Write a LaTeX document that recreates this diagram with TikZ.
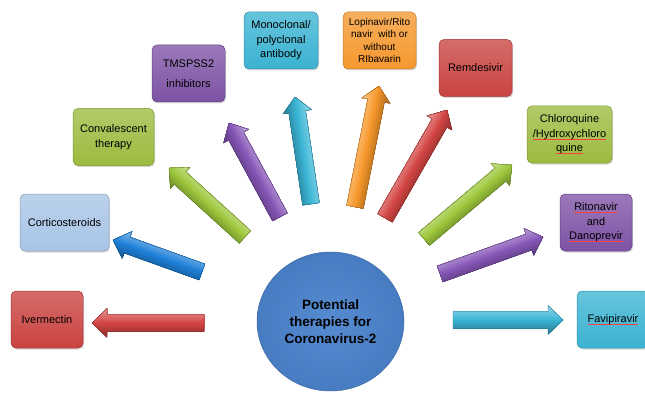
\documentclass[tikz,border=0pt]{standalone}
\usepackage{fontspec}
\setmainfont{Liberation Sans}
\usetikzlibrary{shadows,shapes.geometric}

% box fills
\definecolor{bxRed}{HTML}{C94340}
\definecolor{bxBlue}{HTML}{A8C4E6}
\definecolor{bxGreen}{HTML}{9CBB3F}
\definecolor{bxPurple}{HTML}{7D53A5}
\definecolor{bxCyan}{HTML}{3BB3D2}
\definecolor{bxOrange}{HTML}{F5982F}
% arrow fills
\definecolor{arRed}{HTML}{D44644}
\definecolor{arBlue}{HTML}{1E80D8}
\definecolor{arGreen}{HTML}{9DC83C}
\definecolor{arPurple}{HTML}{8757B8}
\definecolor{arCyan}{HTML}{3BB6D6}
\definecolor{arOrange}{HTML}{F7982A}
% centre disc
\definecolor{cBall}{HTML}{4C84CE}

% thin red underline as left by a spell checker
\newsavebox\spellbox
\newcommand\spellmark[1]{\sbox\spellbox{#1}\rlap{\color{red!75!white}\rule[-1.8pt]{\wd\spellbox}{0.3pt}}\usebox\spellbox}

% bevelled block arrow from a tail coordinate to a tip coordinate:
% bands are stacked from the lower edge upwards, each one covering
% everything above it, so no seams show between them
\newcommand\therapyarrow[3]{%
  \path (#1); \pgfgetlastxy{\tax}{\tay}%
  \path (#2); \pgfgetlastxy{\thx}{\thy}%
  \pgfmathsetmacro\tang{atan2(\thy-\tay,\thx-\tax)}%
  \pgfmathsetmacro\tlen{veclen(\thx-\tax,\thy-\tay)}%
  \pgfmathsetmacro\tside{cos(\tang)>=0 ? -1 : 1}%
  \begin{scope}[shift={(#1)}, rotate=\tang, yscale=\tside]
    \begin{scope}
      \clip (0,-8.5) -- (\tlen-15,-8.5) -- (\tlen-15,-14.5) -- (\tlen,0)
            -- (\tlen-15,14.5) -- (\tlen-15,8.5) -- (0,8.5) -- cycle;
      \foreach \k in {0,...,29}{%
        \ifnum\k>14
          \pgfmathtruncatemacro\tpct{100-(\k-14.5)*3.2}%
          \colorlet{tstrip}{#3!\tpct!white}%
        \else
          \pgfmathtruncatemacro\tpct{100-(14.5-\k)*2.4}%
          \colorlet{tstrip}{#3!\tpct!black}%
        \fi
        \fill[tstrip] (-2,\k-15.2) rectangle (\tlen+2,16);
      }
    \end{scope}
    \draw[#3!65!black, line width=0.4pt, line join=round]
      (0,-8.5) -- (\tlen-15,-8.5) -- (\tlen-15,-14.5) -- (\tlen,0)
      -- (\tlen-15,14.5) -- (\tlen-15,8.5) -- (0,8.5) -- cycle;
  \end{scope}}

\tikzset{
  therapy/.style={draw=#1!80!black, line width=0.5pt, rounded corners=5pt,
    top color=#1!78!white, bottom color=#1, minimum height=57pt,
    inner sep=1pt, align=center, text=black,
    font=\fontsize{11}{14.5}\selectfont,
    drop shadow={opacity=0.3, shadow xshift=1pt, shadow yshift=-1.5pt}},
  hub/.style={ellipse, minimum width=147pt, minimum height=139pt, inner sep=0pt,
    draw=cBall!80!black, line width=0.5pt,
    inner color=cBall!94!white, outer color=cBall!94!black,
    align=center, text=black,
    font=\bfseries\fontsize{13.5}{17}\selectfont},
}

\begin{document}
\begin{tikzpicture}[x=1pt, y=-1pt]
\useasboundingbox (0,0) rectangle (645,393);
\clip (0,0) rectangle (645,393);

% centre
\node[hub] (centre) at (330.5,321.5) {Potential\\therapies for\\Coronavirus-2};

% therapy boxes
\node[therapy=bxRed,    minimum width=72pt] (ivermectin) at (47,319.5)   {Ivermectin};
\node[therapy=bxBlue,   minimum width=89pt] (cortico)    at (64.5,222.5) {Corticosteroids};
\node[therapy=bxGreen,  minimum width=81pt] (conval)     at (113.5,137)  {Convalescent\\therapy};
\node[therapy=bxPurple, minimum width=73pt,
      font=\fontsize{11}{20}\selectfont] (tmpss)         at (188.5,73.5) {TMSPSS2\\inhibitors};
\node[therapy=bxCyan,   minimum width=74pt] (mono)       at (281,40.5)   {Monoclonal/\\polyclonal\\antibody};
\node[therapy=bxOrange, minimum width=73pt,
      font=\fontsize{10}{12.6}\selectfont] (lopi)        at (379.5,40.5) {Lopinavir/Rito\\navir~ with or\\without\\RIbavarin};
\node[therapy=bxRed,    minimum width=73pt] (remde)      at (475.5,68)   {Remdesivir};
\node[therapy=bxGreen,  minimum width=85pt] (chloro)     at (569.5,134.5){Chloroquine\\\spellmark{/Hydroxychloro}\\\spellmark{quine}};
\node[therapy=bxPurple, minimum width=72pt] (riton)      at (596,222.5)  {\spellmark{Ritonavir}\\and\\\spellmark{Danoprevir}};
\node[therapy=bxCyan,   minimum width=72pt] (favi)       at (613,319.5)  {\spellmark{Favipiravir}};

% arrow ends: tail near the centre, tip next to each box
\coordinate (ivT) at (204,323);  \coordinate (ivH) at (92,323);
\coordinate (coT) at (202,272);  \coordinate (coH) at (113,240);
\coordinate (cvT) at (245,237);  \coordinate (cvH) at (169,168);
\coordinate (tmT) at (280,217);  \coordinate (tmH) at (229,123);
\coordinate (moT) at (311,204);  \coordinate (moH) at (295,97);
\coordinate (loT) at (355,207);  \coordinate (loH) at (379,86);
\coordinate (reT) at (385,218);  \coordinate (reH) at (447,110);
\coordinate (chT) at (424,239);  \coordinate (chH) at (512,165);
\coordinate (riT) at (440,274);  \coordinate (riH) at (543,237);
\coordinate (faT) at (453,320);  \coordinate (faH) at (563,320);

\therapyarrow{ivT}{ivH}{arRed}
\therapyarrow{coT}{coH}{arBlue}
\therapyarrow{cvT}{cvH}{arGreen}
\therapyarrow{tmT}{tmH}{arPurple}
\therapyarrow{moT}{moH}{arCyan}
\therapyarrow{loT}{loH}{arOrange}
\therapyarrow{reT}{reH}{arRed}
\therapyarrow{chT}{chH}{arGreen}
\therapyarrow{riT}{riH}{arPurple}
\therapyarrow{faT}{faH}{arCyan}
\end{tikzpicture}
\end{document}
